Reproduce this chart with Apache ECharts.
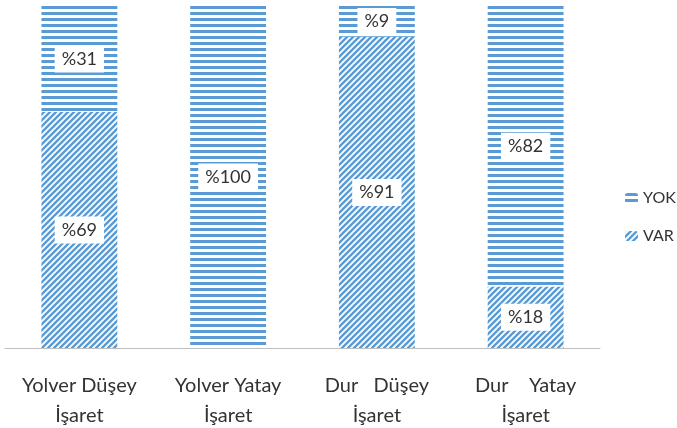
<!DOCTYPE html>
<html lang="tr">
<head>
    <meta charset="UTF-8">
    <title>Yolver / Dur işaret</title>
    <style>
        * { margin: 0; padding: 0; box-sizing: border-box; }
        html, body { background: #fff; }
        #chart { width: 677px; height: 428px; }
    </style>
</head>
<body>
<div id="chart"></div>

<script src="https://cdn.jsdelivr.net/npm/echarts@6.0.0/dist/echarts.min.js"></script>
<script>
    const categories = ['Yolver Düşey\nİşaret', 'Yolver Yatay\nİşaret', 'Dur   Düşey\nİşaret', 'Dur    Yatay\nİşaret']
    const varValues = [69, 0, 91, 18]
    const yokValues = [31, 100, 9, 82]

    const blue = '#5B9BD5'
    const font = 'Lato'

    // yatay çizgili desen (YOK)
    function hLines() {
        const c = document.createElement('canvas')
        c.width = 6; c.height = 6
        const ctx = c.getContext('2d')
        ctx.fillStyle = '#fff'
        ctx.fillRect(0, 0, 6, 6)
        ctx.fillStyle = blue
        ctx.fillRect(0, 0, 6, 3)
        return c
    }

    // çapraz taralı desen (VAR)
    function diag() {
        const c = document.createElement('canvas')
        c.width = 6; c.height = 6
        const ctx = c.getContext('2d')
        ctx.fillStyle = '#fff'
        ctx.fillRect(0, 0, 6, 6)
        ctx.strokeStyle = blue
        ctx.lineWidth = 2.4
        ctx.beginPath()
        ctx.moveTo(-1, 7); ctx.lineTo(7, -1)
        ctx.moveTo(-4, 4); ctx.lineTo(4, -4)
        ctx.moveTo(2, 10); ctx.lineTo(10, 2)
        ctx.stroke()
        return c
    }

    // sıfır olan dilimlerde etiket gösterme
    const toData = arr => arr.map(v => v > 0 ? v : { value: v, label: { show: false } })

    const myChart = echarts.init(document.getElementById('chart'))

    const label = {
        show: true,
        position: 'inside',
        formatter: p => '%' + p.value,
        color: '#333',
        fontSize: 18,
        fontFamily: font,
        backgroundColor: '#fff',
        padding: [5, 7, 4, 7]
    }

    const option = {
        animation: false,
        textStyle: { fontFamily: font },
        grid: { left: 5, right: 77, top: 6, bottom: 80, containLabel: false, outerBoundsMode: 'none' },
        legend: {
            orient: 'vertical',
            left: 620,
            top: 185,
            itemGap: 22,
            itemWidth: 13,
            itemHeight: 10,
            textStyle: { color: '#333', fontSize: 16, fontFamily: font },
            data: ['YOK', 'VAR']
        },
        xAxis: {
            type: 'category',
            data: categories,
            axisTick: { show: false },
            axisLine: { lineStyle: { color: '#BFBFBF', width: 1 } },
            axisLabel: {
                color: '#333',
                fontSize: 20,
                fontFamily: font,
                lineHeight: 30,
                margin: 23,
                interval: 0
            }
        },
        yAxis: {
            type: 'value',
            min: 0,
            max: 100,
            show: false,
            splitLine: { show: false }
        },
        series: [
            {
                name: 'VAR',
                type: 'bar',
                stack: 'total',
                barWidth: '51%',
                data: toData(varValues),
                itemStyle: { color: { image: diag(), repeat: 'repeat' } },
                label: label
            },
            {
                name: 'YOK',
                type: 'bar',
                stack: 'total',
                barWidth: '51%',
                data: toData(yokValues),
                itemStyle: { color: { image: hLines(), repeat: 'repeat' } },
                label: label
            }
        ]
    }

    myChart.setOption(option)
</script>
</body>
</html>
